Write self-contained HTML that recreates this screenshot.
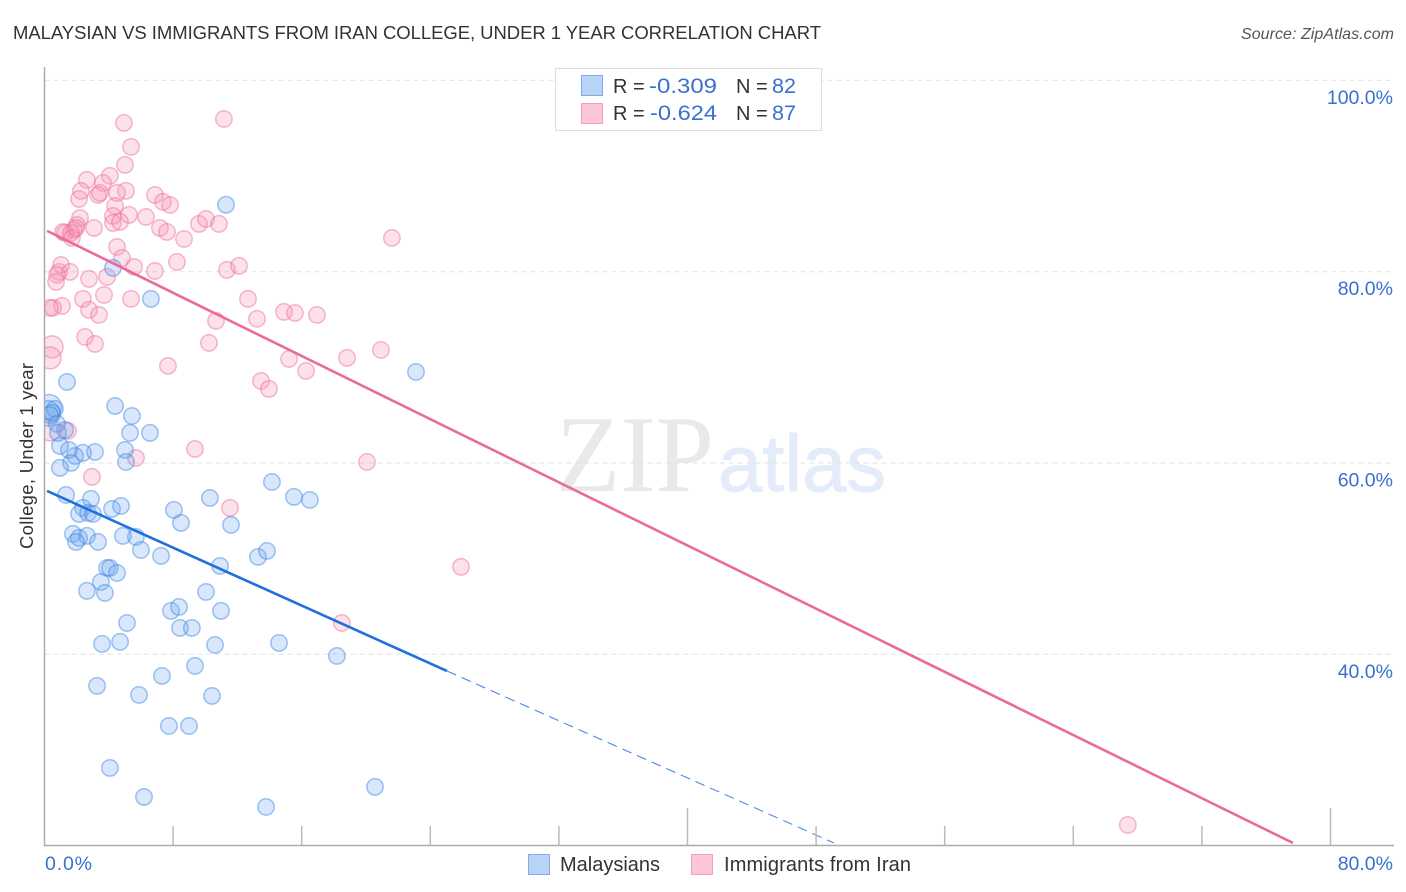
<!DOCTYPE html>
<html>
<head>
<meta charset="utf-8">
<style>
html,body{margin:0;padding:0;background:#fff;}
svg{display:block;}
text{font-family:"Liberation Sans",sans-serif;}
</style>
</head>
<body>
<svg id="chart" xmlns="http://www.w3.org/2000/svg" width="1406" height="892" viewBox="0 0 1406 892">
  <defs>
    <clipPath id="plot-clip"><rect x="45" y="60" width="1350" height="786"/></clipPath>
  </defs>
  <text x="13" y="39" font-size="18.5" fill="#333" textLength="808">MALAYSIAN VS IMMIGRANTS FROM IRAN COLLEGE, UNDER 1 YEAR CORRELATION CHART</text>
  <text x="1241" y="39" font-size="16" font-style="italic" fill="#555" textLength="153">Source: ZipAtlas.com</text>
  <g>
    <text x="556" y="491" font-size="109" fill="#e9e9e9" style="font-family:'Liberation Serif',serif" textLength="158" lengthAdjust="spacingAndGlyphs">ZIP</text>
    <text x="718" y="491" font-size="80" fill="#e4ecf9" stroke="#e4ecf9" stroke-width="1" textLength="168" lengthAdjust="spacingAndGlyphs">atlas</text>
  </g>
  <g id="grid"></g>
  <g id="points" clip-path="url(#plot-clip)"></g>
  <g id="lines"></g>
  <g id="axes"></g>
  <text transform="translate(33,456) rotate(-90)" font-size="18.5" fill="#333" text-anchor="middle" textLength="186">College, Under 1 year</text>

  <g>
    <rect x="555.5" y="68.5" width="266" height="62" fill="#fff" stroke="#ddd" stroke-width="1"/>
    <rect x="581.5" y="75.5" width="21" height="20" fill="#b9d3f7" stroke="#7fabe6"/>
    <rect x="581.5" y="103.5" width="21" height="20" fill="#fcc6d8" stroke="#f3a0bc"/>
    <text x="613" y="93" font-size="20" fill="#333">R =</text>
    <text x="649" y="93" font-size="21" fill="#3a70cf" textLength="68" lengthAdjust="spacingAndGlyphs">-0.309</text>
    <text x="736" y="93" font-size="20" fill="#333">N =</text>
    <text x="772" y="93" font-size="21" fill="#3a70cf" textLength="24" lengthAdjust="spacingAndGlyphs">82</text>
    <text x="613" y="120" font-size="20" fill="#333">R =</text>
    <text x="650" y="120" font-size="21" fill="#3a70cf" textLength="67" lengthAdjust="spacingAndGlyphs">-0.624</text>
    <text x="736" y="120" font-size="20" fill="#333">N =</text>
    <text x="772" y="120" font-size="21" fill="#3a70cf" textLength="24" lengthAdjust="spacingAndGlyphs">87</text>
  </g>

  <g>
    <rect x="528.5" y="854.5" width="21" height="20" fill="#b9d3f7" stroke="#7fabe6"/>
    <text x="560" y="871" font-size="20" fill="#333" textLength="100">Malaysians</text>
    <rect x="691.5" y="854.5" width="21" height="20" fill="#fcc6d8" stroke="#f3a0bc"/>
    <text x="724" y="871" font-size="20" fill="#333" textLength="187">Immigrants from Iran</text>
  </g>
</svg>
<script>
const yTicks = [100, 80, 60, 40];
const yTickLabels = ["100.0%", "80.0%", "60.0%", "40.0%"];
const xTicks = [8, 16, 24, 32, 40, 48, 56, 64, 72, 80];
const xMajorTicks = [40, 80];
const xEndLabels = ["0.0%", "80.0%"];

const malaysianX = [11.29,4.26,6.62,23.11,1.40,4.39,5.44,5.32,6.56,5.01,5.07,3.14,2.39,1.90,1.52,0.96,1.65,0.96,0.65,0.47,0.34,0.78,1.28,0.84,1.34,2.89,2.39,2.15,2.71,3.02,4.20,4.76,1.77,2.64,2.15,1.96,3.33,4.88,5.69,6.00,7.25,10.29,8.05,8.49,11.60,10.92,13.28,13.84,14.15,15.52,16.51,3.89,4.07,4.51,3.51,2.64,3.76,5.13,3.58,4.70,7.87,8.37,10.05,10.98,8.43,9.17,10.61,14.59,18.19,9.36,7.31,3.27,5.88,10.42,7.74,8.99,4.07,6.19,13.78,20.56];
const malaysianY = [87.0,80.4,77.16,69.52,68.48,65.97,64.92,63.15,63.15,61.37,60.11,61.16,61.06,60.74,61.37,61.79,60.01,59.49,65.66,65.24,65.03,64.09,63.46,63.15,56.66,56.25,55.31,54.68,54.78,54.68,55.2,55.51,52.59,52.38,52.17,51.75,51.75,52.38,52.27,50.91,50.29,56.35,55.1,53.74,53.53,49.24,50.18,50.81,58.02,56.46,56.14,49.03,49.03,48.51,47.57,46.63,46.42,43.28,41.09,41.3,44.54,44.95,46.52,44.54,42.76,42.76,40.98,41.19,39.83,38.79,37.74,36.7,35.75,35.65,32.51,32.51,28.12,25.09,24.04,26.14];
const malaysianLargeX = [0.28, 0.2];
const malaysianLargeY = [65.86, 65.2];

const iranX = [4.94,11.16,5.38,5.01,4.07,2.64,3.64,2.27,5.07,2.15,3.33,3.45,4.51,4.39,6.87,7.37,7.81,4.26,5.26,6.31,2.21,4.26,4.70,3.08,2.02,1.83,1.15,1.28,1.65,1.71,1.96,7.18,7.62,8.68,9.61,10.05,10.85,4.51,4.82,5.57,3.89,8.24,6.87,11.35,12.10,1.03,0.90,0.78,0.72,1.59,2.77,3.70,2.39,5.38,12.66,1.09,0.53,0.34,2.77,3.39,10.67,13.22,14.90,15.58,16.95,2.52,3.14,10.23,7.68,21.61,15.21,16.27,18.82,20.93,13.47,13.96,9.36,5.69,20.06,2.95,11.54,25.91,18.50,67.39,1.46];
const iranY = [95.56,95.97,93.05,91.17,90.02,89.6,89.28,88.45,88.45,87.61,88.03,88.24,88.24,86.88,88.03,87.3,86.98,85.83,85.94,85.73,85.62,85.1,85.21,84.58,84.89,84.37,84.16,84.06,84.06,83.53,84.58,84.58,84.16,83.43,85,85.52,85,82.59,81.44,80.5,79.46,81.02,80.08,80.19,80.61,80.71,79.98,79.67,78.93,79.98,79.25,77.57,77.16,77.16,77.16,76.42,76.22,76.22,76.01,75.48,74.86,75.07,75.8,75.69,75.48,73.18,72.45,72.56,70.15,83.53,70.88,69.63,70.99,71.82,68.58,67.75,61.47,60.53,60.11,58.55,55.31,49.14,43.28,22.16,63.36];
const iranLargeX = [0.47, 0.34, 0.34];
const iranLargeY = [72.14, 70.99, 63.46];

const malaysianTrendX = [0.16, 25.03];
const malaysianTrendY = [57.08, 38.26];
const malaysianDashX = [25.03, 49.1];
const malaysianDashY = [38.26, 20.28];
const iranTrendX = [0.16, 77.66];
const iranTrendY = [84.27, 20.28];

const NS = "http://www.w3.org/2000/svg";
const px = v => 44.5 + (v / 80) * 1286;
const py = v => 80.4 + ((100 - v) / 20) * 191.3;

function mk(parent, tag, attrs) {
  const el = document.createElementNS(NS, tag);
  for (const k in attrs) el.setAttribute(k, attrs[k]);
  parent.appendChild(el);
  return el;
}

const grid = document.getElementById("grid");
const axes = document.getElementById("axes");
const pointsG = document.getElementById("points");
const linesG = document.getElementById("lines");

yTicks.forEach((t, i) => {
  const line = mk(grid, "line", {x1: 44.5, x2: 1393, y1: py(t), y2: py(t), stroke: "#e2e2e2", "stroke-width": 1, "stroke-dasharray": "5 4"});
  
  
  const label = mk(axes, "text", {x: 1393, y: py(t) + 23.5, "font-size": 19.5, fill: "#3a70cf", "text-anchor": "end"});
  
  
  label.textContent = yTickLabels[i];
});

xTicks.forEach(t => {
  const top = xMajorTicks.includes(t) ? 808 : 826;
  const tick = mk(axes, "line", {x1: px(t), x2: px(t), y1: top, y2: 845.5, stroke: "#bbb", "stroke-width": 1.5});
  
  
});

const yAxis = mk(axes, "line", {x1: 44.5, x2: 44.5, y1: 67, y2: 846, stroke: "#aaa", "stroke-width": 1.5});


const xAxis = mk(axes, "line", {x1: 44, x2: 1394, y1: 845.5, y2: 845.5, stroke: "#aaa", "stroke-width": 1.5});



const xLabelLeft = mk(axes, "text", {x: 45, y: 870, "font-size": 19.5, fill: "#3a70cf", textLength: 47});


xLabelLeft.textContent = xEndLabels[0];
const xLabelRight = mk(axes, "text", {x: 1393, y: 870, "font-size": 19.5, fill: "#3a70cf", "text-anchor": "end"});


xLabelRight.textContent = xEndLabels[1];

function drawSeries(xs, ys, r, fill, stroke) {
  xs.forEach((x, i) => {
    const c = mk(pointsG, "circle", {cx: px(x), cy: py(ys[i]), r: r, fill: fill, "fill-opacity": 0.27, stroke: stroke, "stroke-opacity": 0.48, "stroke-width": 1.5});
    
    
  });
}

drawSeries(iranLargeX, iranLargeY, 11, "#f78fb3", "#ec6c9c");
drawSeries(iranX, iranY, 8.2, "#f78fb3", "#ec6c9c");
drawSeries(malaysianLargeX, malaysianLargeY, 12.5, "#6fa8f0", "#3d86e3");
drawSeries(malaysianX, malaysianY, 8.2, "#6fa8f0", "#3d86e3");

const iranLine = mk(linesG, "line", {x1: px(iranTrendX[0]), y1: py(iranTrendY[0]), x2: px(iranTrendX[1]), y2: py(iranTrendY[1]), stroke: "#ea6b9b", "stroke-width": 2.6});


const malLine = mk(linesG, "line", {x1: px(malaysianTrendX[0]), y1: py(malaysianTrendY[0]), x2: px(malaysianTrendX[1]), y2: py(malaysianTrendY[1]), stroke: "#1f6fdc", "stroke-width": 2.6});


const malDash = mk(linesG, "line", {x1: px(malaysianDashX[0]), y1: py(malaysianDashY[0]), x2: px(malaysianDashX[1]), y2: py(malaysianDashY[1]), stroke: "#3d7fe0", "stroke-width": 1, "stroke-dasharray": "10 6"});


</script>
</body>
</html>
